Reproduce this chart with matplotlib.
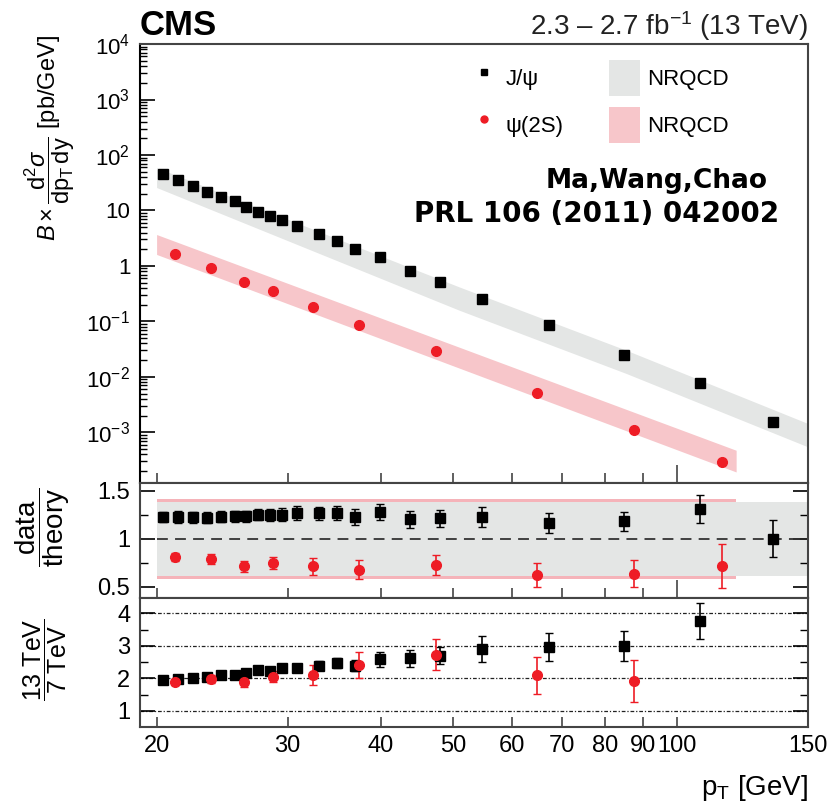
import matplotlib
matplotlib.use("Agg")
import matplotlib.pyplot as plt
from matplotlib.lines import Line2D
from matplotlib.patches import Patch
from matplotlib.ticker import FixedLocator, NullLocator, LogLocator, NullFormatter

plt.rcParams["font.family"] = ["Liberation Sans", "DejaVu Sans"]
plt.rcParams["mathtext.fontset"] = "custom"
plt.rcParams["mathtext.rm"] = "Liberation Sans"
plt.rcParams["mathtext.it"] = "Liberation Sans:italic"
plt.rcParams["mathtext.bf"] = "Liberation Sans:bold"

# J/psi measurement (pT bin centres in GeV)
jpsi_pt = [20.4, 21.4, 22.4, 23.4, 24.4, 25.5, 26.4, 27.4, 28.4, 29.5, 30.9,
           33.0, 34.9, 37.0, 39.9, 43.8, 48.0, 54.8, 67.4, 85.0, 107.5, 134.6]
jpsi_xsec = [46.3, 35.1, 27.3, 21.9, 17.5, 14.5, 11.6, 9.57, 7.87, 6.67, 5.2,
             3.73, 2.82, 2.03, 1.42, 0.81, 0.515, 0.258, 0.0853, 0.0246, 0.0076, 0.00154]
jpsi_xsec_err = [0.5, 0.4, 0.3, 0.25, 0.2, 0.17, 0.14, 0.12, 0.1, 0.09, 0.07,
                 0.05, 0.04, 0.03, 0.02, 0.012, 0.008, 0.005, 0.002, 0.0008, 0.0004, 0.0002]
jpsi_ratio = [1.226, 1.226, 1.222, 1.219, 1.229, 1.232, 1.232, 1.25, 1.247, 1.25, 1.268,
              1.264, 1.268, 1.226, 1.281, 1.2, 1.211, 1.226, 1.164, 1.18, 1.31, 1.0]
jpsi_ratio_err = [0.055, 0.06, 0.06, 0.06, 0.06, 0.06, 0.06, 0.06, 0.065, 0.065, 0.07,
                  0.07, 0.075, 0.08, 0.085, 0.087, 0.087, 0.1, 0.1, 0.095, 0.15, 0.19]
# 13 TeV / 7 TeV (no 7 TeV point in the last bin)
jpsi_sqrts_ratio = [1.96, 1.98, 2.01, 2.04, 2.09, 2.11, 2.17, 2.24, 2.23, 2.31, 2.33,
                    2.39, 2.46, 2.39, 2.59, 2.62, 2.70, 2.90, 2.96, 2.98, 3.76]
jpsi_sqrts_err = [0.06, 0.06, 0.06, 0.07, 0.07, 0.07, 0.08, 0.08, 0.09, 0.1, 0.11,
                  0.13, 0.15, 0.17, 0.23, 0.26, 0.26, 0.41, 0.42, 0.46, 0.55]

# psi(2S) measurement
psi2s_pt = [21.2, 23.7, 26.2, 28.7, 32.4, 37.4, 47.4, 64.9, 87.5, 114.8]
psi2s_xsec = [1.63, 0.936, 0.508, 0.35, 0.182, 0.0878, 0.029, 0.00513, 0.00112, 0.000293]
psi2s_xsec_err = [0.03, 0.02, 0.012, 0.009, 0.006, 0.004, 0.0015, 0.0004, 0.0001, 0.00004]
psi2s_ratio = [0.809, 0.789, 0.711, 0.747, 0.711, 0.677, 0.729, 0.625, 0.635, 0.716]
psi2s_ratio_err = [0.045, 0.05, 0.057, 0.0625, 0.087, 0.1, 0.104, 0.125, 0.14, 0.23]
psi2s_sqrts_ratio = [1.88, 1.97, 1.88, 2.05, 2.11, 2.41, 2.73, 2.10, 1.91]
psi2s_sqrts_err = [0.1, 0.12, 0.16, 0.18, 0.31, 0.4, 0.48, 0.57, 0.65]

# NRQCD predictions (Ma, Wang, Chao)
jpsi_band_pt = [20, 51.0, 85.5, 150]
jpsi_band_hi = [59.4, 0.418, 0.0302, 0.00144]
jpsi_band_lo = [25.9, 0.159, 0.0115, 0.000546]
psi2s_band_pt = [20, 50, 120.1]
psi2s_band_hi = [3.68, 0.0378, 0.000475]
psi2s_band_lo = [1.61, 0.0159, 0.000193]
jpsi_rband_pt = [20, 150]
jpsi_rband_lo = [0.61, 0.61]
jpsi_rband_hi = [1.38, 1.38]
psi2s_rband_pt = [20, 120]
psi2s_rband_lo = [0.585, 0.585]
psi2s_rband_hi = [1.415, 1.415]

xtick_vals = [20, 30, 40, 50, 60, 70, 80, 90, 100, 150]
xtick_labels = ["20", "30", "40", "50", "60", "70", "80", "90", "100", "150"]

GRAY = "#e4e6e5"
PINK = "#f7c6ca"
PINK_EDGE = "#f5b3b9"
RED = "#ee1c25"
SPINE = "#444444"

fig = plt.figure(figsize=(8.3, 8.05), dpi=100)
ax1 = fig.add_axes([0.1687, 0.4, 0.8048, 0.5453])
ax2 = fig.add_axes([0.1687, 0.2571, 0.8048, 0.1429])
ax3 = fig.add_axes([0.1687, 0.0969, 0.8048, 0.1602])

for ax in (ax1, ax2, ax3):
    ax.set_xscale("log")
    ax.set_xlim(19, 150)
    ax.xaxis.set_major_locator(FixedLocator(xtick_vals))
    ax.xaxis.set_minor_locator(NullLocator())
    ax.xaxis.set_major_formatter(NullFormatter())
    ax.xaxis.set_minor_formatter(NullFormatter())
    ax.tick_params(axis="x", which="both", direction="in", top=False, length=7, width=1.2, color=SPINE)
    for i, t in enumerate(ax.xaxis.get_major_ticks()):
        if xtick_vals[i] == 100:
            t.tick1line.set_markersize(13)
    for s in ax.spines.values():
        s.set_color(SPINE)
        s.set_linewidth(1.5)

# --- top panel: cross sections ---
ax1.fill_between(jpsi_band_pt, jpsi_band_lo, jpsi_band_hi, color=GRAY, lw=0, zorder=1)
ax1.fill_between(psi2s_band_pt, psi2s_band_lo, psi2s_band_hi, color=PINK, lw=0, zorder=1)
ax1.errorbar(jpsi_pt, jpsi_xsec, yerr=jpsi_xsec_err, fmt="s", color="black", ms=7,
             capsize=2, elinewidth=1, zorder=3)
ax1.errorbar(psi2s_pt, psi2s_xsec, yerr=psi2s_xsec_err, fmt="o", color=RED, ms=7,
             capsize=2, elinewidth=1, zorder=3)
ax1.set_yscale("log")
ax1.set_ylim(1.22e-4, 1e4)
ax1.yaxis.set_major_locator(FixedLocator([1e-3, 1e-2, 1e-1, 1, 10, 1e2, 1e3, 1e4]))
ax1.set_yticklabels([r"$10^{-3}$", r"$10^{-2}$", r"$10^{-1}$", "1", "10",
                     r"$10^{2}$", r"$10^{3}$", r"$10^{4}$"])
ax1.yaxis.set_minor_locator(LogLocator(base=10, subs=range(2, 10), numticks=20))
ax1.yaxis.set_minor_formatter(NullFormatter())
ax1.tick_params(axis="y", which="major", direction="in", right=False, length=11, width=1.2,
                labelsize=16, pad=7)
ax1.tick_params(axis="y", which="minor", direction="in", right=False, length=5, width=1)
ax1.spines["left"].set_color("black")

handles = [
    Line2D([], [], marker="s", color="black", ls="none", ms=5),
    Line2D([], [], marker="o", color=RED, ls="none", ms=5),
    Patch(facecolor=GRAY, edgecolor="none"),
    Patch(facecolor=PINK, edgecolor="none"),
]
fig.legend(handles, ["J/ψ", "ψ(2S)", "NRQCD", "NRQCD"], ncol=2, frameon=False,
           loc="upper left", bbox_to_anchor=(468 / 830, 1 - 60 / 805), fontsize=16,
           handlelength=1.4, handleheight=2.1, handletextpad=0.3, columnspacing=2.05,
           labelspacing=0.5, borderpad=0, borderaxespad=0)

fig.text(657 / 830, 1 - 188 / 805, "Ma,Wang,Chao", ha="center", va="baseline",
         fontsize=19, fontweight="bold", family="DejaVu Sans")
fig.text(597 / 830, 1 - 222 / 805, "PRL 106 (2011) 042002", ha="center", va="baseline",
         fontsize=20, fontweight="bold", family="DejaVu Sans")

fig.text(140 / 830, 1 - 35 / 805, "CMS", ha="left", va="baseline", fontsize=25,
         fontweight="bold")
fig.text(808 / 830, 1 - 35 / 805, r"2.3 – 2.7 fb$^{-1}$ (13 TeV)", ha="right",
         va="baseline", fontsize=20, color="#222222")
fig.text(50 / 830, 1 - 138 / 805,
         r"$B\times\dfrac{\mathrm{d^2}\sigma}{\mathrm{dp}_\mathrm{T}\,\mathrm{dy}}$ [pb/GeV]",
         rotation=90, ha="center", va="center", fontsize=17)

# --- middle panel: data / theory ---
ax2.fill_between(psi2s_rband_pt, psi2s_rband_lo, psi2s_rband_hi, color=PINK_EDGE, lw=0, zorder=1)
ax2.fill_between(jpsi_rband_pt, jpsi_rband_lo, jpsi_rband_hi, color=GRAY, lw=0, zorder=1)
ax2.hlines(1, 20, 150, colors="#333333", linestyles=(0, (6, 4)), lw=1.3, zorder=2)
ax2.errorbar(jpsi_pt, jpsi_ratio, yerr=jpsi_ratio_err, fmt="s", color="black", ms=7,
             capsize=3, elinewidth=1.2, zorder=3)
ax2.errorbar(psi2s_pt, psi2s_ratio, yerr=psi2s_ratio_err, fmt="o", color=RED, ms=7,
             capsize=3, elinewidth=1.2, zorder=3)
ax2.set_ylim(0.382, 1.58)
ax2.yaxis.set_major_locator(FixedLocator([0.5, 1, 1.5]))
ax2.set_yticklabels(["0.5", "1", "1.5"])
ax2.yaxis.set_minor_locator(FixedLocator([0.75, 1.25]))
ax2.tick_params(axis="y", which="major", direction="in", right=True, length=11, width=1.2,
                labelsize=17, pad=7)
ax2.tick_params(axis="y", which="minor", direction="in", right=True, length=6, width=1)
fig.text(43 / 830, 1 - 527 / 805, r"$\dfrac{\mathrm{data}}{\mathrm{theory}}$",
         rotation=90, ha="center", va="center", fontsize=20)

# --- bottom panel: 13 TeV / 7 TeV ---
for v in [1, 2, 3, 4]:
    ax3.axhline(v, color="#222222", lw=0.9, ls=(0, (3, 1.5, 1, 1.5)), zorder=1)
ax3.errorbar(jpsi_pt[:len(jpsi_sqrts_ratio)], jpsi_sqrts_ratio, yerr=jpsi_sqrts_err, fmt="s",
             color="black", ms=7, capsize=3, elinewidth=1.2, zorder=3)
ax3.errorbar(psi2s_pt[:len(psi2s_sqrts_ratio)], psi2s_sqrts_ratio, yerr=psi2s_sqrts_err,
             fmt="o", color=RED, ms=7, capsize=3, elinewidth=1.2, zorder=3)
ax3.set_ylim(0.5, 4.47)
ax3.yaxis.set_major_locator(FixedLocator([1, 2, 3, 4]))
ax3.set_yticklabels(["1", "2", "3", "4"])
ax3.yaxis.set_minor_locator(FixedLocator([1.5, 2.5, 3.5]))
ax3.tick_params(axis="y", which="major", direction="in", right=True, length=11, width=1.2,
                labelsize=17, pad=7)
ax3.tick_params(axis="y", which="minor", direction="in", right=True, length=6, width=1)
ax3.set_xticklabels(xtick_labels)
ax3.tick_params(axis="x", labelsize=17, pad=6)
fig.text(45 / 830, 1 - 660 / 805, r"$\dfrac{\mathrm{13\ TeV}}{\mathrm{7\ TeV}}$",
         rotation=90, ha="center", va="center", fontsize=18)
fig.text(808 / 830, 1 - 795 / 805, r"p$_\mathrm{T}$ [GeV]", ha="right", va="baseline",
         fontsize=20)

fig.savefig("out.png", dpi=100)
